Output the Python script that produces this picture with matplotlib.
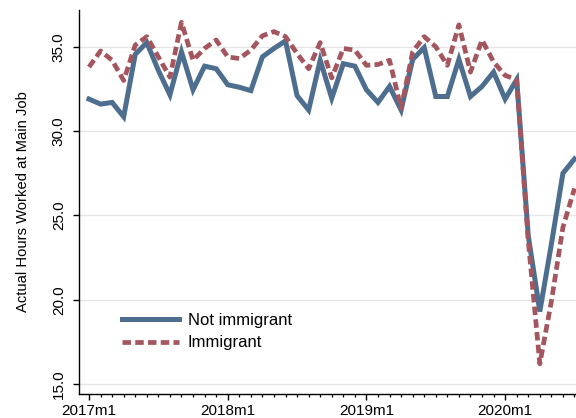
import matplotlib
matplotlib.use("Agg")
import matplotlib.pyplot as plt
from matplotlib.ticker import MultipleLocator, FixedLocator

plt.rcParams['font.family'] = ['Liberation Sans', 'DejaVu Sans']

# Monthly data, 2017m1 .. 2020m7
months = list(range(43))
tick_positions = [0, 12, 24, 36]
tick_labels = ["2017m1", "2018m1", "2019m1", "2020m1"]
y_ticks = [15, 20, 25, 30, 35]

not_immigrant = [31.9, 31.6, 31.7, 30.85, 34.55, 35.25, 33.6, 32.15, 34.7, 32.45,
                 33.85, 33.7, 32.75, 32.6, 32.4, 34.4, 34.9, 35.35, 32.1, 31.25,
                 34.2, 31.95, 34.0, 33.85, 32.45, 31.7, 32.65, 31.25, 34.25, 34.95,
                 32.05, 32.05, 34.25, 32.05, 32.65, 33.5, 31.9, 33.05, 23.8, 19.3,
                 23.3, 27.5, 28.35]
immigrant = [33.8, 34.75, 34.2, 33.0, 35.1, 35.6, 34.4, 33.2, 36.45, 34.2,
             34.9, 35.4, 34.4, 34.3, 34.8, 35.65, 35.9, 35.6, 34.6, 33.7,
             35.25, 33.15, 34.9, 34.8, 33.9, 33.95, 34.2, 31.35, 34.7, 35.6,
             35.0, 33.9, 36.3, 33.5, 35.4, 34.1, 33.3, 33.05, 23.5, 16.2,
             19.9, 24.3, 26.6]

W, H = 576, 418
fig = plt.figure(figsize=(W / 100, H / 100), dpi=100)
left, right, top, bottom = 79, 576, 10, 393.5
ax = fig.add_axes([left / W, (H - bottom) / H, (right - left) / W, (bottom - top) / H])

blue = '#4d6e8e'
red = '#a4565f'

ax.plot(months, not_immigrant, color=blue, lw=3.6, solid_joinstyle='miter',
        label='Not immigrant', zorder=3)
ax.plot(months, immigrant, color=red, lw=3.4, linestyle=(0, (1.8, 0.9)),
        label='Immigrant', zorder=4)

ax.set_xlim(-0.865, 42.13)
ax.set_ylim(14.44, 37.18)

ax.xaxis.set_major_locator(FixedLocator(tick_positions))
ax.set_xticklabels(tick_labels)
ax.xaxis.set_minor_locator(MultipleLocator(1))
ax.set_yticks(y_ticks)
ax.set_yticklabels([f"{v:.1f}" for v in y_ticks], rotation=90, va='center')

ax.tick_params(axis='x', which='major', length=4.5, width=1, labelsize=11, pad=3, direction='out')
ax.tick_params(axis='x', which='minor', length=2.5, width=0.9, direction='out')
ax.tick_params(axis='y', which='major', length=4.5, width=1, labelsize=11, pad=5, direction='out')

ax.grid(axis='y', color='#e6e6e6', lw=0.9, zorder=0)
ax.set_axisbelow(True)
for s in ['top', 'right']:
    ax.spines[s].set_visible(False)
for s in ['left', 'bottom']:
    ax.spines[s].set_linewidth(1)
    ax.spines[s].set_color('black')

ax.set_ylabel('Actual Hours Worked at Main Job', fontsize=10.6)
ax.yaxis.set_label_coords(-0.098, 0.5)

leg = ax.legend(loc='center left', bbox_to_anchor=((122 - 79) / 497, (393.5 - 331.7) / 383.5),
                frameon=False, fontsize=12, handlelength=3.4, handletextpad=0.55,
                labelspacing=0.45, borderpad=0, borderaxespad=0)

fig.savefig('out.png', dpi=100)
